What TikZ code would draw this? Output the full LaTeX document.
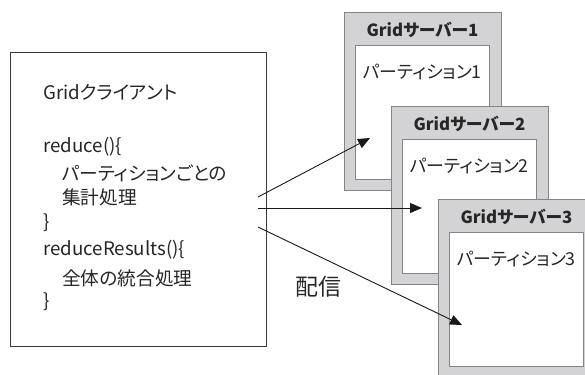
\documentclass[tikz,border=0pt]{standalone}
\usepackage{fontspec}
\setmainfont{Noto Sans CJK JP}[RawFeature={+palt}]
\usetikzlibrary{arrows.meta}
\definecolor{srvgray}{HTML}{D3D3D5}
\definecolor{srvline}{HTML}{858585}
\definecolor{boxline}{HTML}{3A3A3A}
\tikzset{
  clientbox/.style={draw=boxline, line width=0.9pt, fill=white, rectangle, inner sep=0pt, anchor=north west, minimum width=256.5pt, minimum height=294pt},
  srvouter/.style={draw=srvline, line width=0.9pt, fill=srvgray, rectangle, inner sep=0pt, anchor=north west, minimum width=157pt, minimum height=178pt},
  srvinner/.style={draw=srvline, line width=0.9pt, fill=white, rectangle, inner sep=0pt, anchor=north west, minimum width=134pt, minimum height=134pt},
  srvtitle/.style={font=\fontsize{16.8}{19}\selectfont\bfseries, text=black!85, inner sep=0pt, anchor=center},
  parttext/.style={font=\fontsize{17.8}{20}\selectfont, text=black!85, inner sep=0pt, anchor=west},
  codeline/.style={font=\fontsize{18.7}{21}\selectfont, text=black!85, inner sep=0pt, anchor=west},
  sendarrow/.style={draw=black!90, line width=0.9pt, -{Triangle[length=12pt,width=10pt]}},
}
\begin{document}
\begin{tikzpicture}[x=1pt,y=-1pt]
\useasboundingbox (0,0) rectangle (585,374);
\clip (0,0) rectangle (585,374);

% client
\node[clientbox] (client) at (9.5,52) {};
\node[codeline] (c1) at (43,92) {Gridクライアント};
\node[codeline] (c2) at (43,147) {reduce()\{};
\node[codeline] (c3) at (62,173) {パーティションごとの};
\node[codeline] (c4) at (62,197) {集計処理};
\node[codeline] (c5) at (43,223) {\}};
\node[codeline] (c6) at (43,250) {reduceResults()\{};
\node[codeline] (c7) at (62,278) {全体の統合処理};
\node[codeline] (c8) at (43,302) {\}};

% server 1
\node[srvouter] (s1) at (344,12) {};
\node[srvinner] (i1) at (355,45) {};
\node[srvtitle] (t1) at (422.5,30) {Gridサーバー1};
\node[parttext] (p1) at (363,72) {パーティション1};

% server 2
\node[srvouter] (s2) at (391,106) {};
\node[srvinner] (i2) at (402,139) {};
\node[srvtitle] (t2) at (469.5,124) {Gridサーバー2};
\node[parttext] (p2) at (410,166) {パーティション2};

% server 3
\node[srvouter] (s3) at (438,199) {};
\node[srvinner] (i3) at (449,232) {};
\node[srvtitle] (t3) at (516.5,217) {Gridサーバー3};
\node[parttext] (p3) at (457,259) {パーティション3};

% label
\node[font=\fontsize{23}{26}\selectfont, text=black!85, inner sep=0pt] (lbl) at (318,287) {配信};

% arrows
\coordinate (a1) at (258,197);
\coordinate (a2) at (258,208);
\coordinate (a3) at (258,227);
\coordinate (e1) at (370,138);
\coordinate (e2) at (422,208);
\coordinate (e3) at (462,325);
\draw[sendarrow] (a1) -- (e1);
\draw[sendarrow] (a2) -- (e2);
\draw[sendarrow] (a3) -- (e3);
\end{tikzpicture}
\end{document}
